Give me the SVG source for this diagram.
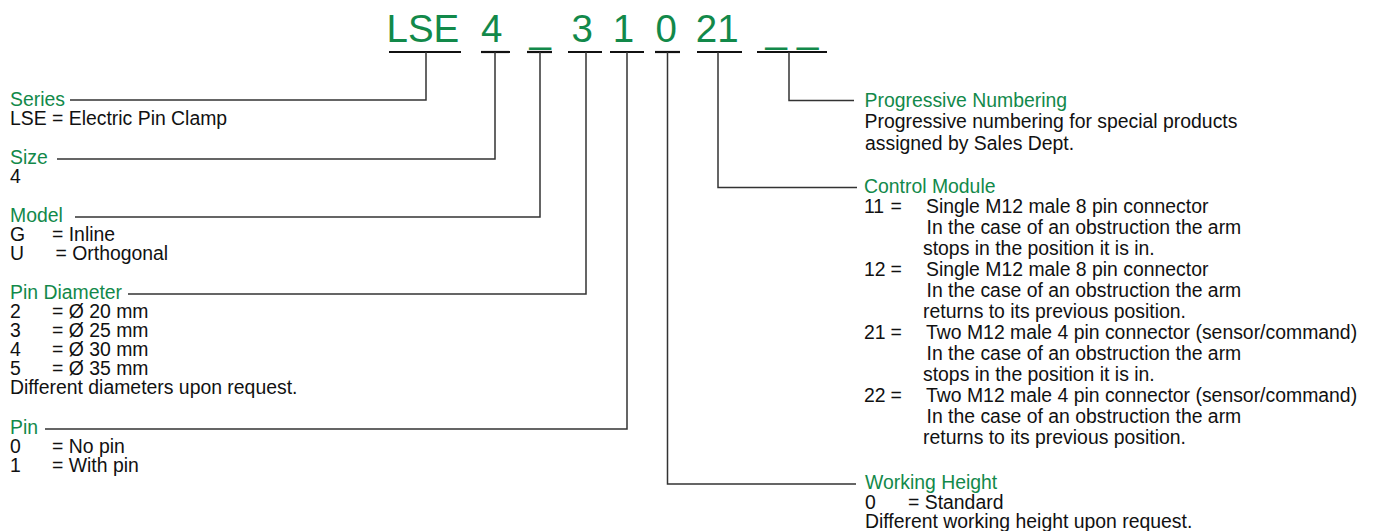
<svg xmlns="http://www.w3.org/2000/svg" width="1373" height="531" viewBox="0 0 1373 531">
  <style>
    text { font-family: "Liberation Sans", Arial, Helvetica, sans-serif; font-size: 19.4px; fill: #111; }
    .code { font-size: 38.5px; fill: #12894a; }
    .hd { fill: #12894a; }
    .seg { stroke: #111; stroke-width: 2.2; fill: none; }
    .con { stroke: #333; stroke-width: 1.5; fill: none; }
  </style>
  <rect width="1373" height="531" fill="#ffffff"/>

  <g id="code">
    <text class="code" y="42"><tspan x="386.5">LSE</tspan><tspan x="481">4</tspan><tspan x="529.5">_</tspan><tspan x="571.5">3</tspan><tspan x="612.7">1</tspan><tspan x="655.4">0</tspan><tspan x="695.8">21</tspan><tspan x="765.5">_</tspan><tspan x="797">_</tspan></text>
    <line class="seg" x1="389" y1="52" x2="461" y2="52"/>
    <line class="seg" x1="481" y1="52" x2="510" y2="52"/>
    <line class="seg" x1="527" y1="52" x2="552" y2="52"/>
    <line class="seg" x1="568" y1="52" x2="602" y2="52"/>
    <line class="seg" x1="610" y1="52" x2="644" y2="52"/>
    <line class="seg" x1="655" y1="52" x2="680" y2="52"/>
    <line class="seg" x1="697" y1="52" x2="742" y2="52"/>
    <line class="seg" x1="757" y1="52" x2="827" y2="52"/>
  </g>

  <g id="connectors">
    <polyline class="con" points="426,52 426,100 70,100"/>
    <polyline class="con" points="495,52 495,159 57,159"/>
    <polyline class="con" points="540,52 540,217 75,217"/>
    <polyline class="con" points="586,52 586,294 128,294"/>
    <polyline class="con" points="627,52 627,429 45,429"/>
    <polyline class="con" points="667.5,52 667.5,484 856,484"/>
    <polyline class="con" points="718,52 718,187.5 857,187.5"/>
    <polyline class="con" points="789,52 789,100.5 854,100.5"/>
  </g>

  <g id="series">
    <text><tspan class="hd" x="10" y="106">Series</tspan><tspan x="10" y="125">LSE = Electric Pin Clamp</tspan></text>
  </g>

  <g id="size">
    <text><tspan class="hd" x="10" y="164">Size</tspan><tspan x="10" y="183">4</tspan></text>
  </g>

  <g id="model">
    <text><tspan class="hd" x="10" y="221.5">Model</tspan><tspan x="10" y="240.5">G</tspan><tspan x="52" y="240.5">= Inline</tspan><tspan x="10" y="260">U</tspan><tspan x="55.5" y="260">= Orthogonal</tspan></text>
  </g>

  <g id="pin-diameter">
    <text><tspan class="hd" x="10" y="298.5">Pin Diameter</tspan><tspan x="10" y="317.5">2</tspan><tspan x="52" y="317.5">= Ø 20 mm</tspan><tspan x="10" y="336.5">3</tspan><tspan x="52" y="336.5">= Ø 25 mm</tspan><tspan x="10" y="355.5">4</tspan><tspan x="52" y="355.5">= Ø 30 mm</tspan><tspan x="10" y="374.5">5</tspan><tspan x="52" y="374.5">= Ø 35 mm</tspan><tspan x="10" y="393.5">Different diameters upon request.</tspan></text>
  </g>

  <g id="pin">
    <text><tspan class="hd" x="10" y="433.5">Pin</tspan><tspan x="10" y="452.5">0</tspan><tspan x="52" y="452.5">= No pin</tspan><tspan x="10" y="471.7">1</tspan><tspan x="52" y="471.7">= With pin</tspan></text>
  </g>

  <g id="progressive-numbering">
    <text><tspan class="hd" x="864.5" y="107.3">Progressive Numbering</tspan><tspan x="864.5" y="128.3">Progressive numbering for special products</tspan><tspan x="865" y="149.5">assigned by Sales Dept.</tspan></text>
  </g>

  <g id="control-module">
    <text><tspan class="hd" x="864" y="192.7">Control Module</tspan><tspan x="864" y="213">11</tspan><tspan x="890.5" y="213">=</tspan><tspan x="926" y="213">Single M12 male 8 pin connector</tspan><tspan x="926.5" y="234">In the case of an obstruction the arm</tspan><tspan x="923" y="255">stops in the position it is in.</tspan><tspan x="864" y="276">12</tspan><tspan x="890.5" y="276">=</tspan><tspan x="926" y="276">Single M12 male 8 pin connector</tspan><tspan x="926.5" y="297">In the case of an obstruction the arm</tspan><tspan x="923" y="318">returns to its previous position.</tspan><tspan x="864" y="339">21</tspan><tspan x="890.5" y="339">=</tspan><tspan x="926" y="339">Two M12 male 4 pin connector (sensor/command)</tspan><tspan x="926.5" y="360">In the case of an obstruction the arm</tspan><tspan x="923" y="381">stops in the position it is in.</tspan><tspan x="864" y="402">22</tspan><tspan x="890.5" y="402">=</tspan><tspan x="926" y="402">Two M12 male 4 pin connector (sensor/command)</tspan><tspan x="926.5" y="423">In the case of an obstruction the arm</tspan><tspan x="923" y="444">returns to its previous position.</tspan></text>
  </g>

  <g id="working-height">
    <text><tspan class="hd" x="865" y="489.3">Working Height</tspan><tspan x="865" y="508.8">0</tspan><tspan x="908" y="508.8">= Standard</tspan><tspan x="865" y="527.5">Different working height upon request.</tspan></text>
  </g>
</svg>
